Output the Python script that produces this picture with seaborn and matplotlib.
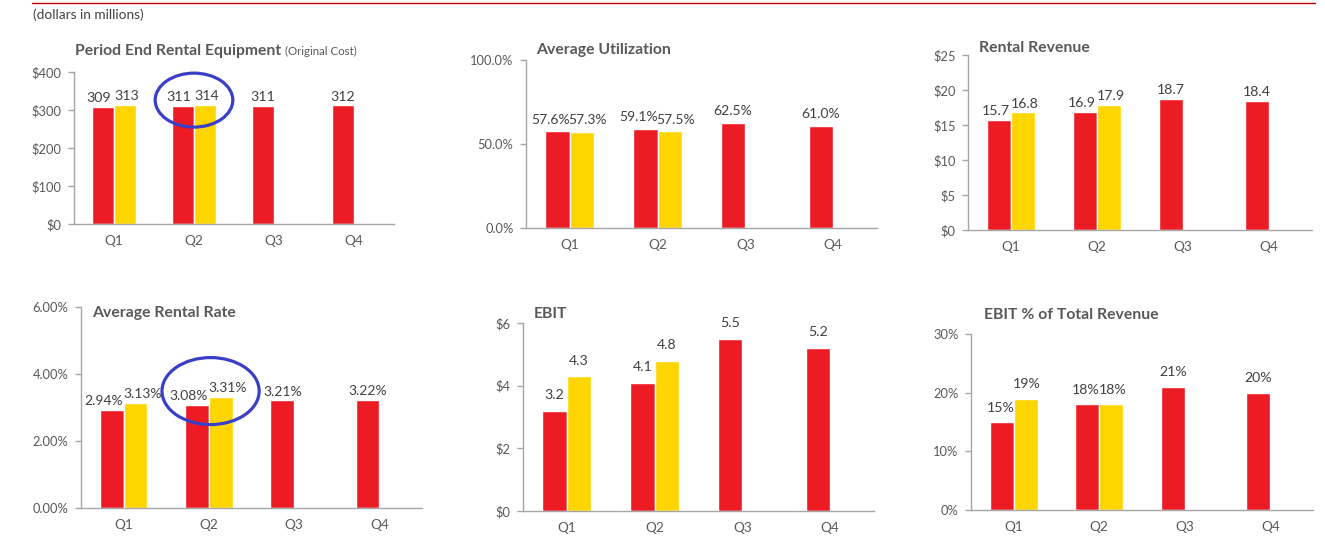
import numpy as np
import pandas as pd
import matplotlib
matplotlib.use("Agg")
import matplotlib.pyplot as plt
import seaborn as sns
from matplotlib.patches import Ellipse
from matplotlib.lines import Line2D
from matplotlib.ticker import FuncFormatter, FixedLocator

# ---------------- data ----------------
quarters = ["Q1", "Q2", "Q3", "Q4"]
series_names = ["Prior Year", "Current Year"]

rental_equipment_prior = [309, 311, 311, 312]
rental_equipment_current = [313, 314, np.nan, np.nan]

utilization_prior = [57.6, 59.1, 62.5, 61.0]
utilization_current = [57.3, 57.5, np.nan, np.nan]

rental_revenue_prior = [15.7, 16.9, 18.7, 18.4]
rental_revenue_current = [16.8, 17.9, np.nan, np.nan]

rental_rate_prior = [2.94, 3.08, 3.21, 3.22]
rental_rate_current = [3.13, 3.31, np.nan, np.nan]

ebit_prior = [3.2, 4.1, 5.5, 5.2]
ebit_current = [4.3, 4.8, np.nan, np.nan]

ebit_pct_prior = [15, 18, 21, 20]
ebit_pct_current = [19, 18, np.nan, np.nan]

# ---------------- style ----------------
sns.set_theme(style="white")
plt.rcParams["font.family"] = ["Lato", "DejaVu Sans"]

RED = "#ED1C24"
YELLOW = "#FFD500"
TXT = "#595959"
LBL = "#404040"
SPINE = "#A6A6A6"

W, H = 1325, 557
fig = plt.figure(figsize=(W / 100, H / 100), dpi=100)
fig.patch.set_facecolor("white")


def px_axes(left, top, right, bottom):
    return fig.add_axes([left / W, 1 - bottom / H, (right - left) / W, (bottom - top) / H])


def make_df(prior, current):
    rows = []
    for q, a, b in zip(quarters, prior, current):
        rows.append({"quarter": q, "series": series_names[0], "value": a})
        rows.append({"quarter": q, "series": series_names[1], "value": b})
    df = pd.DataFrame(rows)
    return df.dropna()


def draw(ax, prior, current, yticks, tickfmt, labfmt, pad, shifts=(0, 0), lsize=10.2):
    df = make_df(prior, current)
    sns.barplot(data=df, x="quarter", y="value", hue="series", order=quarters,
                hue_order=series_names, palette=[RED, YELLOW], width=0.56,
                errorbar=None, edgecolor="white", linewidth=1.0, ax=ax, legend=False,
                saturation=1)
    for i, c in enumerate(ax.containers):
        labels = [labfmt(b.get_height()) for b in c]
        anns = ax.bar_label(c, labels=labels, padding=pad, fontsize=lsize, color=LBL)
        for k, a in enumerate(anns):
            # only first two quarters have paired bars; nudge their labels apart
            dx = shifts[i] if k < 2 else 0
            a.xyann = (dx, pad)
    ax.set_xlim(-0.5, 3.5)
    ax.set_ylim(yticks[0], yticks[-1])
    ax.yaxis.set_major_locator(FixedLocator(yticks))
    ax.yaxis.set_major_formatter(FuncFormatter(lambda v, p: tickfmt(v)))
    ax.set_xticks(range(4))
    ax.set_xticklabels(quarters)
    ax.set_xticks(np.arange(-0.5, 4.0, 1.0), minor=True)
    ax.tick_params(axis="x", which="major", length=0, pad=8, labelsize=9.8, labelcolor=TXT)
    ax.tick_params(axis="x", which="minor", length=4, width=1, color=SPINE, direction="out")
    ax.tick_params(axis="y", which="major", length=4, width=1, color=SPINE, direction="out",
                   pad=5, labelsize=9.3, labelcolor=TXT, left=True)
    for s in ["top", "right"]:
        ax.spines[s].set_visible(False)
    for s in ["left", "bottom"]:
        ax.spines[s].set_color(SPINE)
        ax.spines[s].set_linewidth(1)
    ax.set_xlabel("")
    ax.set_ylabel("")
    ax.grid(False)
    ax.set_facecolor("white")
    return ax


ax1 = px_axes(74, 72, 394, 224)
draw(ax1, rental_equipment_prior, rental_equipment_current, [0, 100, 200, 300, 400],
     lambda v: f"${v:.0f}", lambda v: f"{v:.0f}", 2, shifts=(-3, 1))
ax2 = px_axes(526, 60, 877, 228)
draw(ax2, utilization_prior, utilization_current, [0, 50, 100],
     lambda v: f"{v:.1f}%", lambda v: f"{v:.1f}%", 4, shifts=(-5, 4), lsize=10)
ax3 = px_axes(968, 55, 1312, 230)
draw(ax3, rental_revenue_prior, rental_revenue_current, [0, 5, 10, 15, 20, 25],
     lambda v: f"${v:.0f}", lambda v: f"{v:.1f}", 2, shifts=(-2, 1))
ax4 = px_axes(81, 307, 422, 508)
draw(ax4, rental_rate_prior, rental_rate_current, [0, 2, 4, 6],
     lambda v: f"{v:.2f}%", lambda v: f"{v:.2f}%", 2, shifts=(-6, 5), lsize=10)
ax5 = px_axes(523, 323, 874, 511)
draw(ax5, ebit_prior, ebit_current, [0, 2, 4, 6],
     lambda v: f"${v:.0f}", lambda v: f"{v:.1f}", 7)
ax6 = px_axes(971, 334, 1313, 510)
draw(ax6, ebit_pct_prior, ebit_pct_current, [0, 10, 20, 30],
     lambda v: f"{v:.0f}%", lambda v: f"{v:.0f}%", 6, shifts=(-1, 1))


def title_px(x, y, s, size=11.3, weight="bold", color=TXT):
    return fig.text(x / W, 1 - y / H, s, fontsize=size, fontweight=weight, color=color,
                    ha="left", va="center")

t1 = title_px(75, 51, "Period End Rental Equipment")
fig.canvas.draw()
bb = t1.get_window_extent()
fig.text((bb.x1 + 4) / W, 1 - 51 / H, "(Original Cost)", fontsize=8.3, color=TXT,
         ha="left", va="center")
title_px(536, 50, "Average Utilization")
title_px(979, 48, "Rental Revenue")
title_px(92, 313, "Average Rental Rate")
title_px(534, 314, "EBIT")
title_px(984, 315, "EBIT % of Total Revenue")

# header
fig.text(33 / W, 1 - 15 / H, "(dollars in millions)", fontsize=9.8, color=LBL,
         ha="left", va="center")
fig.add_artist(Line2D([32 / W, 1315 / W], [1 - 2.5 / H, 1 - 2.5 / H],
                      color="#C00000", linewidth=1.0, transform=fig.transFigure))

# highlight ellipses around Q2
ax1.add_patch(Ellipse((1.0, 326), 0.97, 142, fill=False, edgecolor="#3B3FC8",
                      linewidth=2.3, clip_on=False, zorder=5))
ax4.add_patch(Ellipse((1.02, 3.49), 1.14, 2.0, fill=False, edgecolor="#3B3FC8",
                      linewidth=2.3, clip_on=False, zorder=5))

fig.savefig("out.png", dpi=100, facecolor="white")
